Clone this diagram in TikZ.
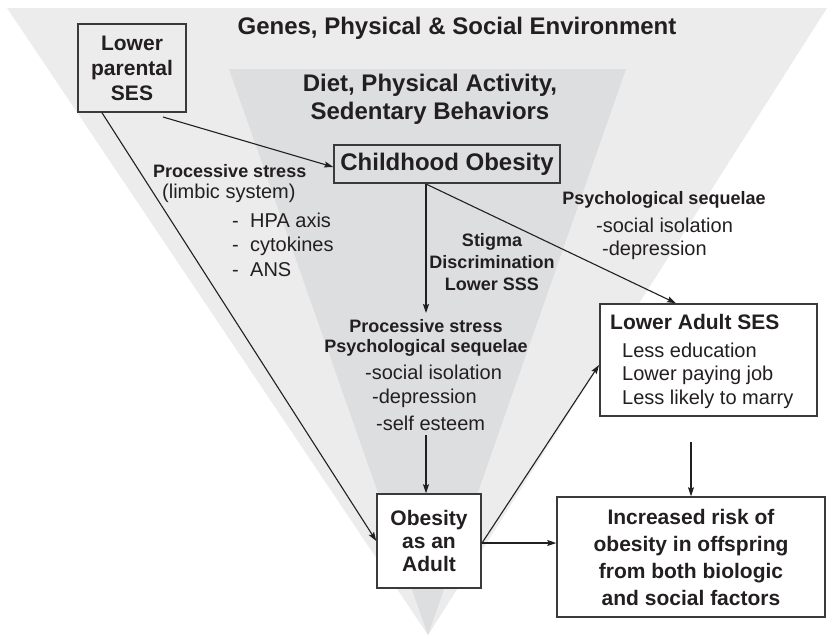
\documentclass[tikz,border=0pt]{standalone}
\usepackage{fontspec}
\setmainfont{Liberation Sans}
\usetikzlibrary{arrows.meta}
\definecolor{outergray}{HTML}{ECECEC}
\definecolor{innergray}{HTML}{DDDEE0}
\definecolor{ink}{HTML}{231F20}
\definecolor{frame}{HTML}{3A3A3A}

\begin{document}
\begin{tikzpicture}[x=1pt,y=-1pt,
  box/.style={draw=frame, line width=1.5pt, inner sep=0pt, text=ink, align=center},
  link/.style={draw=ink, line width=1.1pt, -{Stealth[length=9pt,width=6pt,inset=1.5pt]}},
  plain/.style={draw=ink, line width=1.1pt},
  head/.style={font=\fontsize{24}{28}\selectfont\bfseries, text=ink, align=center, inner sep=0pt},
  boxtxt/.style={font=\fontsize{21}{25}\selectfont\bfseries},
  lab/.style={font=\fontsize{18}{20}\selectfont\bfseries, text=ink, align=center, inner sep=0pt},
  txt/.style={font=\fontsize{20}{24}\selectfont, text=ink, inner sep=0pt, anchor=west},
  labw/.style={lab, anchor=west}]
\useasboundingbox (0,0) rectangle (828,635);

% nested influence triangles
\fill[outergray] (7,8) -- (827,8) -- (428,635) -- cycle;
\fill[innergray] (229,69) -- (626,69) -- (428,635) -- cycle;

% headings
\node[head] (genes) at (457,28) {Genes, Physical \& Social Environment};
\node[head, font=\fontsize{24}{28}\selectfont\bfseries] (diet) at (430,99) {Diet, Physical Activity,\\Sedentary Behaviors};

% boxes
\node[box, boxtxt, minimum width=108pt, minimum height=88pt] (parent) at (132,68) {Lower\\parental\\SES};
\node[box, font=\fontsize{24}{28}\selectfont\bfseries, minimum width=226pt, minimum height=38pt] (child) at (447,164) {Childhood Obesity};
\node[box, boxtxt, fill=white, minimum width=104pt, minimum height=94pt, font=\fontsize{21}{23}\selectfont\bfseries] (adult) at (429,541) {Obesity\\as an\\Adult};
\node[box, fill=white, minimum width=217pt, minimum height=112pt] (ses) at (708.5,360) {};
\node[box, fill=white, minimum width=268pt, minimum height=120pt, font=\fontsize{21}{27}\selectfont\bfseries] (risk) at (691,557) {Increased risk of\\obesity in offspring\\from both biologic\\and social factors};

% contents of the adult SES box
\node[labw, font=\fontsize{21}{25}\selectfont\bfseries] (sestitle) at (610,322) {Lower Adult SES};
\node[txt] (ses1) at (622,350) {Less education};
\node[txt] (ses2) at (622,375) {Lower paying job};
\node[txt] (ses3) at (622,399) {Less likely to marry};

% pathway labels
\node[labw] (ps1) at (153,171) {Processive stress};
\node[txt] (limbic) at (162,193) {(limbic system)};
\node[txt] (hpa) at (232,220) {\makebox[18pt][l]{-}HPA axis};
\node[txt] (cyto) at (232,246) {\makebox[18pt][l]{-}cytokines};
\node[txt] (ans) at (232,270) {\makebox[18pt][l]{-}ANS};

\node[lab, font=\fontsize{18}{22}\selectfont\bfseries] (stigma) at (492,262) {Stigma\\Discrimination\\Lower SSS};

\node[lab] (psy1) at (664,200) {Psychological sequelae};
\node[txt] (psy1a) at (596,225) {-social isolation};
\node[txt] (psy1b) at (602,250) {-depression};

\node[lab] (ps2) at (426,338) {Processive stress\\Psychological sequelae};
\node[txt] (ps2a) at (365,372) {-social isolation};
\node[txt] (ps2b) at (372,398) {-depression};
\node[txt] (ps2c) at (376,423) {-self esteem};

% connector end points
\coordinate (pstart) at (163,117);
\coordinate (cstart) at (426,184);
\coordinate (cdown) at (426,313);
\coordinate (estart) at (426,435);
\coordinate (astart) at (482,543);
\coordinate (sesleft) at (599,365);
\coordinate (sesdown) at (691,442);

% connectors
\draw[link] (pstart) -- (child.west |- 0,167);
\draw[link] (parent.south -| 102,0) -- (adult.west);
\draw[link] (cstart) -- (cdown);
\draw[link] (cstart) -- (ses.north -| 676,0);
\draw[link] (estart) -- (adult.north -| 426,0);
\draw[link] (astart) -- (sesleft);
\draw[link] (adult.east |- astart) -- (risk.west |- astart);
\draw[link] (sesdown) -- (risk.north);
\end{tikzpicture}
\end{document}
